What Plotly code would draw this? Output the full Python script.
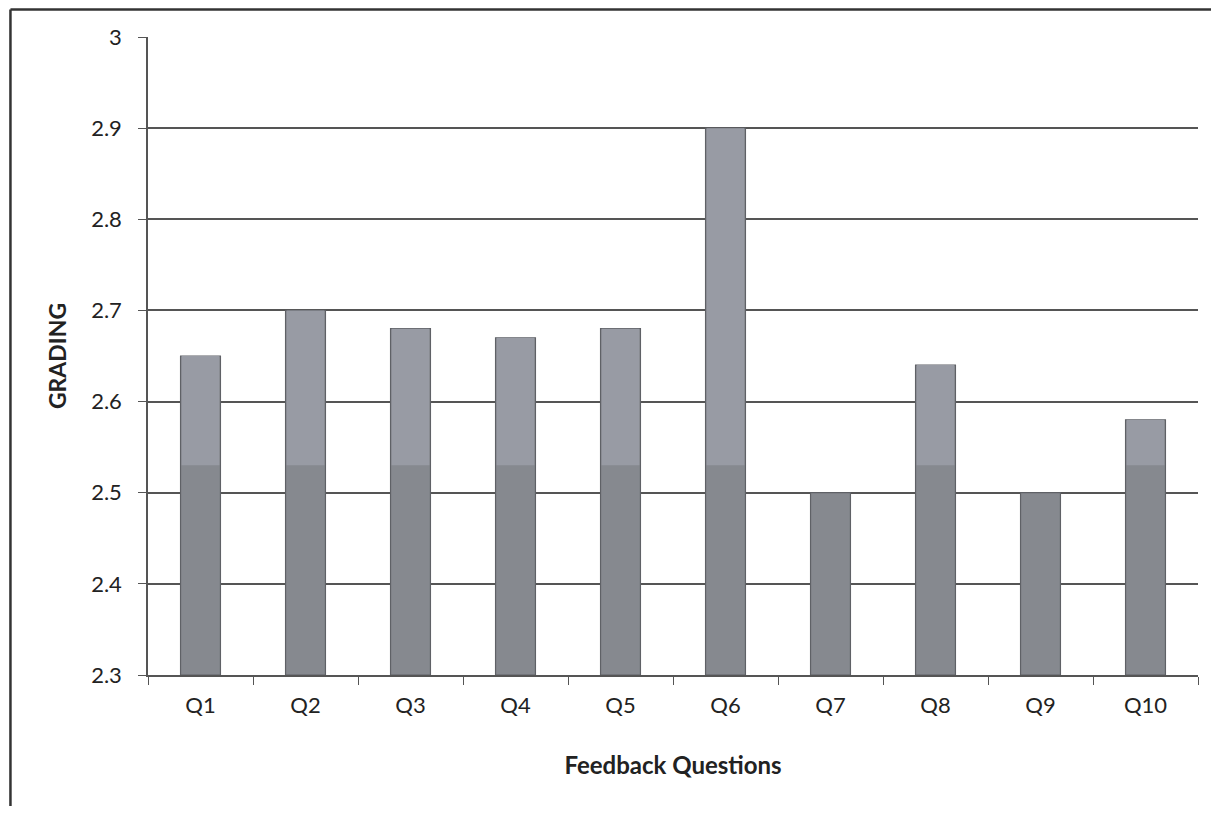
import plotly.graph_objects as go

categories = ["Q1", "Q2", "Q3", "Q4", "Q5", "Q6", "Q7", "Q8", "Q9", "Q10"]
grading = [2.65, 2.70, 2.68, 2.67, 2.68, 2.90, 2.50, 2.64, 2.50, 2.58]
y_ticks = [2.3, 2.4, 2.5, 2.6, 2.7, 2.8, 2.9, 3.0]
y_tick_labels = ["2.3", "2.4", "2.5", "2.6", "2.7", "2.8", "2.9", "3"]
axis_min = 2.3
band_level = 2.53  # where the bar shading changes in the original

FONT = "Lato, 'Open Sans', sans-serif"

fig = go.Figure()
# full bars (darker lower shade)
fig.add_trace(go.Bar(
    x=categories, y=[v - axis_min for v in grading], base=axis_min,
    width=0.38,
    marker=dict(color="#86898f", line=dict(color="#5f6166", width=1.2)),
    hoverinfo="x+y",
))
# lighter upper shading of each bar
upper = [max(v - band_level, 0) for v in grading]
fig.add_trace(go.Bar(
    x=categories, y=upper, base=band_level,
    width=0.36,
    marker=dict(color="#989ba4", line=dict(width=0)),
    hoverinfo="skip",
))

fig.update_layout(
    width=1203, height=798,
    paper_bgcolor="white", plot_bgcolor="white",
    margin=dict(l=140, r=13, t=29, b=131),
    showlegend=False,
    barmode="overlay",
    font=dict(family=FONT, color="#222222", size=22),
    xaxis=dict(
        type="category",
        showgrid=False,
        showline=True, linecolor="#555555", linewidth=1.5,
        ticks="outside", tickson="boundaries", ticklen=8, tickcolor="#555555",
        tickfont=dict(size=22, family=FONT),
        ticklabelstandoff=10,
        title=dict(text="<b>Feedback Questions</b>", font=dict(size=24, family=FONT), standoff=40),
    ),
    yaxis=dict(
        range=[2.3, 3.0],
        tickvals=y_ticks, ticktext=y_tick_labels,
        showgrid=True, gridcolor="#555555", gridwidth=1.5,
        showline=True, linecolor="#555555", linewidth=1.5,
        ticks="outside", ticklen=8, tickcolor="#555555",
        tickfont=dict(size=22, family=FONT),
        ticklabelstandoff=12,
        title=dict(text="<b>GRADING</b>", font=dict(size=23, family=FONT), standoff=18),
        zeroline=False,
    ),
)

# outer chart frame (left and top edges)
fig.add_shape(type="line", xref="paper", yref="paper",
              x0=-0.131, x1=1.02, y0=1.043, y1=1.043,
              line=dict(color="#333333", width=2.5))
fig.add_shape(type="line", xref="paper", yref="paper",
              x0=-0.131, x1=-0.131, y0=1.043, y1=-0.3,
              line=dict(color="#333333", width=2.5))

fig.write_html("out.html")
